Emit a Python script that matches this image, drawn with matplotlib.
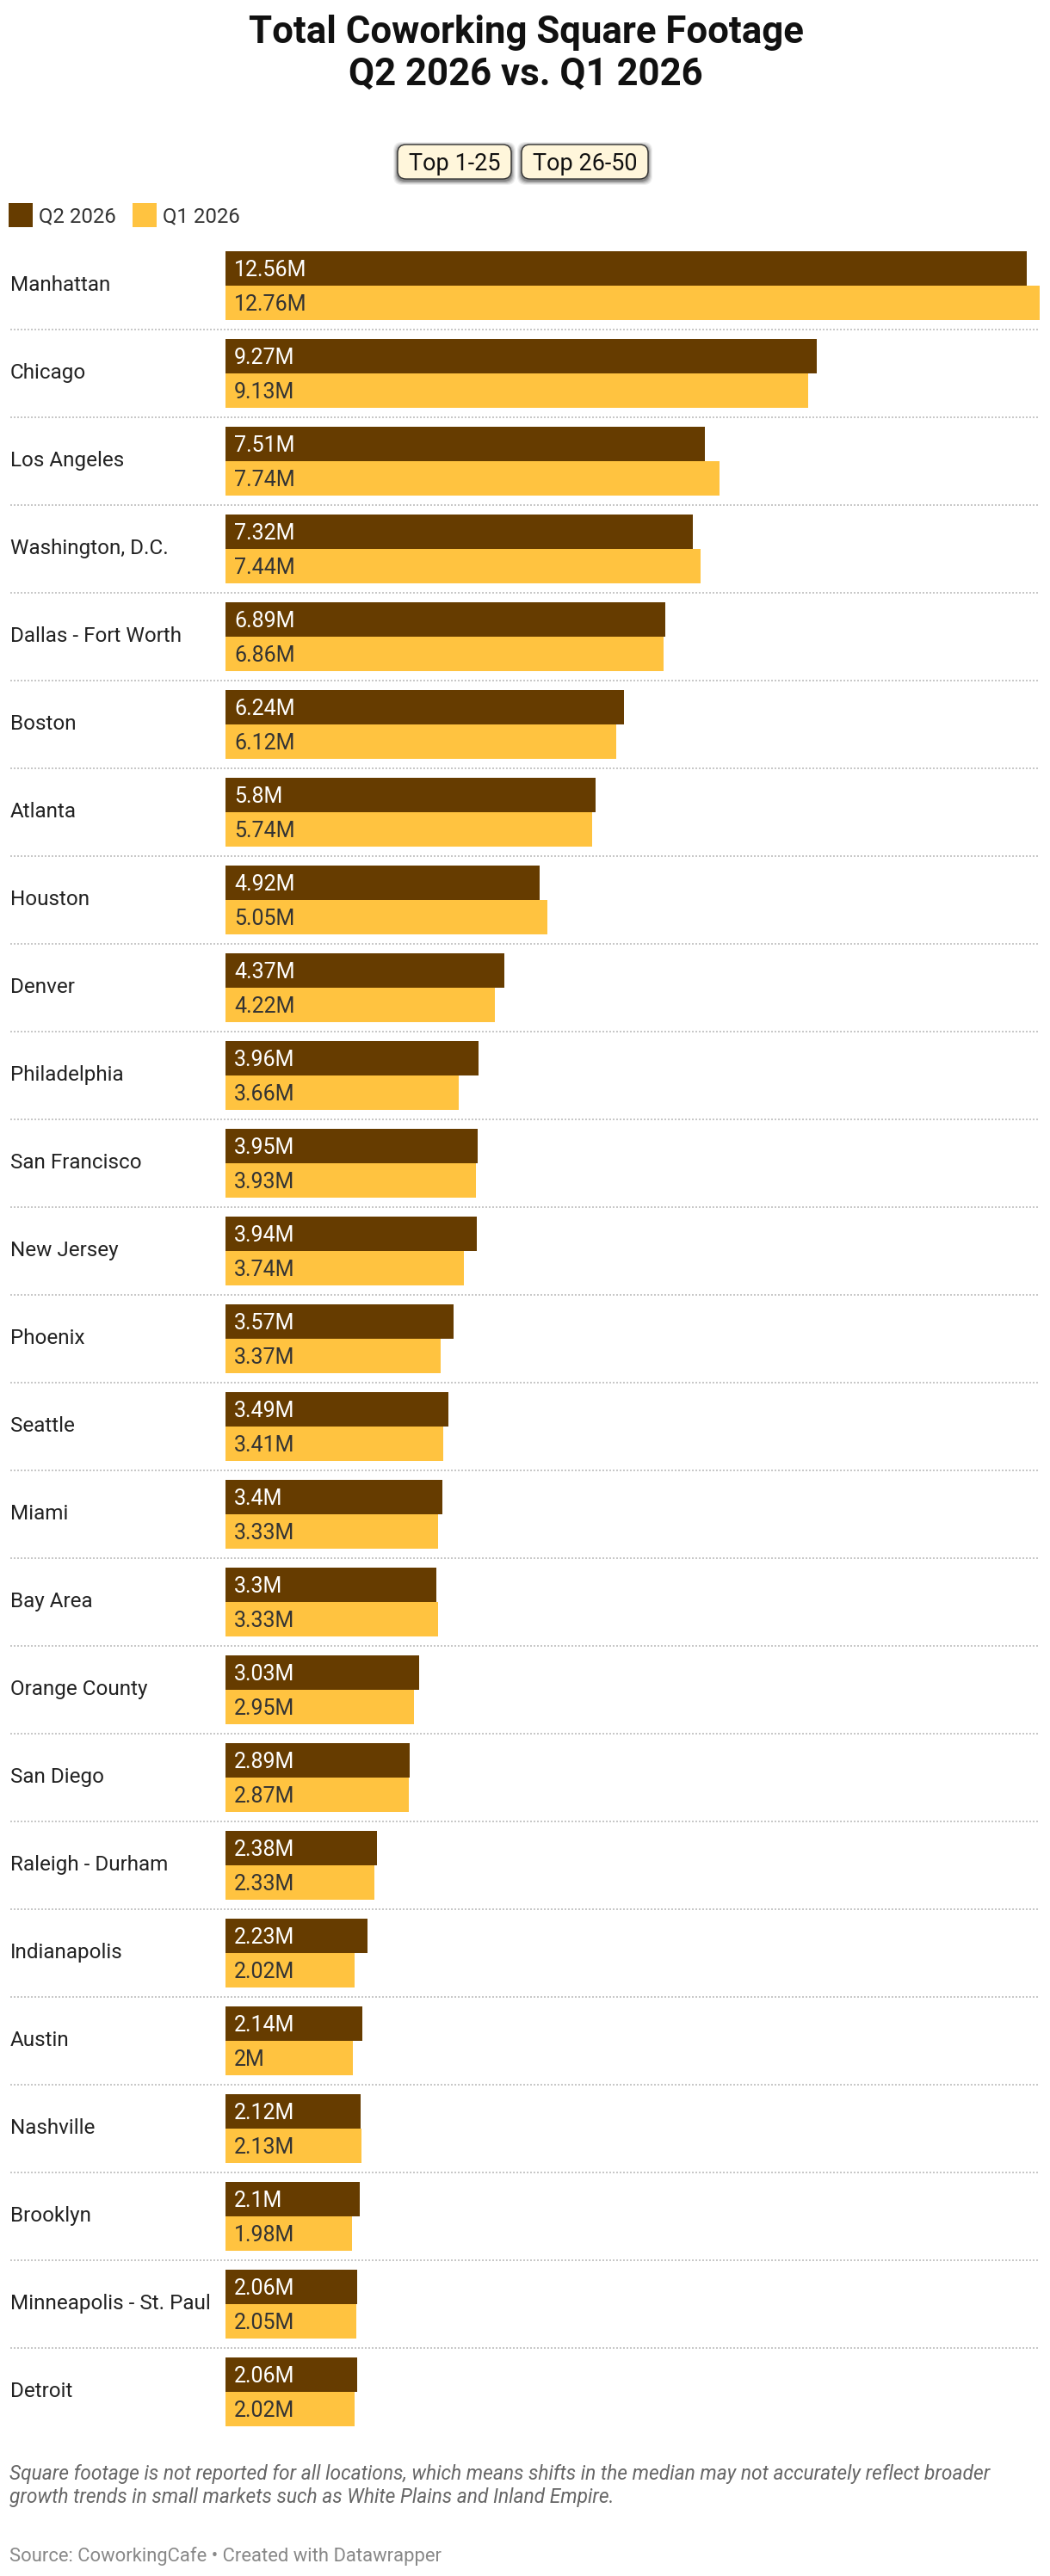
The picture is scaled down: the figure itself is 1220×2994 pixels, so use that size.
import matplotlib
matplotlib.use("Agg")
import matplotlib.pyplot as plt
from matplotlib.patches import FancyBboxPatch, Rectangle
import numpy as np

# ---------------- data ----------------
cities = ["Manhattan", "Chicago", "Los Angeles", "Washington, D.C.", "Dallas - Fort Worth",
          "Boston", "Atlanta", "Houston", "Denver", "Philadelphia", "San Francisco",
          "New Jersey", "Phoenix", "Seattle", "Miami", "Bay Area", "Orange County",
          "San Diego", "Raleigh - Durham", "Indianapolis", "Austin", "Nashville",
          "Brooklyn", "Minneapolis - St. Paul", "Detroit"]
q2_2026 = [12.56, 9.27, 7.51, 7.32, 6.89, 6.24, 5.8, 4.92, 4.37, 3.96, 3.95, 3.94, 3.57,
           3.49, 3.4, 3.3, 3.03, 2.89, 2.38, 2.23, 2.14, 2.12, 2.1, 2.06, 2.06]
q1_2026 = [12.76, 9.13, 7.74, 7.44, 6.86, 6.12, 5.74, 5.05, 4.22, 3.66, 3.93, 3.74, 3.37,
           3.41, 3.33, 3.33, 2.95, 2.87, 2.33, 2.02, 2.0, 2.13, 1.98, 2.05, 2.02]
series_names = ["Q2 2026", "Q1 2026"]
buttons = ["Top 1-25", "Top 26-50"]
title_lines = ["Total Coworking Square Footage", "Q2 2026 vs. Q1 2026"]
note_lines = ["Square footage is not reported for all locations, which means shifts in the median may not accurately reflect broader",
              "growth trends in small markets such as White Plains and Inland Empire."]
source = "Source: CoworkingCafe \u2022 Created with Datawrapper"

# ---------------- style ----------------
C_Q2 = "#663C00"
C_Q1 = "#FFC340"
W, H, DPI = 1220, 2994, 100
plt.rcParams['font.family'] = ['Roboto', 'DejaVu Sans']

def fx(x): return x / W
def fy(y): return 1 - y / H
def pt(px): return px * 72 / DPI

fig = plt.figure(figsize=(W / DPI, H / DPI), dpi=DPI)
fig.patch.set_facecolor("white")

# title
fig.text(fx(611), fy(50), title_lines[0], ha="center", va="baseline",
         fontsize=pt(43.8), fontweight="bold", color="#111111")
fig.text(fx(611), fy(99), title_lines[1], ha="center", va="baseline",
         fontsize=pt(43.8), fontweight="bold", color="#111111")

# buttons
btn_boxes = [(462, 594), (606, 753)]
for (x0, x1), lab in zip(btn_boxes, buttons):
    for k, a in enumerate([0.08, 0.10, 0.14, 0.20, 0.28]):
        grow = 5 - k
        sh = FancyBboxPatch((fx(x0 - grow), fy(210 + grow)), (x1 - x0 + 2 * grow) / W,
                            (40 + 2 * grow) / H,
                            boxstyle="round,pad=0,rounding_size=0.008",
                            transform=fig.transFigure, facecolor="#333333",
                            edgecolor="none", alpha=a, mutation_aspect=W / H)
        fig.add_artist(sh)
    box = FancyBboxPatch((fx(x0), fy(208)), (x1 - x0) / W, 40 / H,
                         boxstyle="round,pad=0,rounding_size=0.008",
                         transform=fig.transFigure, facecolor="#FFF6DB",
                         edgecolor="#333333", linewidth=1.0, mutation_aspect=W / H)
    fig.add_artist(box)
    fig.text(fx((x0 + x1) / 2), fy(198), lab, ha="center", va="baseline",
             fontsize=pt(27), color="#111111")

# legend
for (sx, tx), name, col in zip([(10, 45), (154, 189)], series_names, [C_Q2, C_Q1]):
    fig.add_artist(Rectangle((fx(sx), fy(264)), 28 / W, 28 / H,
                             transform=fig.transFigure, facecolor=col, edgecolor="none"))
    fig.text(fx(tx), fy(258), name, ha="left", va="baseline",
             fontsize=pt(24), color="#333333")

# bars
ax = fig.add_axes([fx(262), fy(2831), (1208 - 262) / W, (2831 - 281) / H])
n = len(cities)
y = np.arange(n)
bh = 40 / 102
ax.barh(y - bh / 2, q2_2026, height=bh, color=C_Q2, linewidth=0)
ax.barh(y + bh / 2, q1_2026, height=bh, color=C_Q1, linewidth=0)
ax.set_xlim(0, max(max(q1_2026), max(q2_2026)))
ax.set_ylim(n - 0.5, -0.5)
ax.axis("off")

# separators
xmin = (12 - 262) / (1208 - 262)
for i in range(1, n):
    ax.plot([xmin, 1], [i - 0.5, i - 0.5], transform=ax.get_yaxis_transform(),
            color="#C8C8C8", linewidth=1.44, linestyle=(0, (1, 1)),
            solid_capstyle="butt", dash_capstyle="butt", clip_on=False)

# labels
for i, (c, a, b) in enumerate(zip(cities, q2_2026, q1_2026)):
    ax.annotate(c, xy=(12, i), xycoords=("figure pixels", "data"),
                xytext=(0, -6), textcoords="offset pixels", ha="left", va="baseline",
                fontsize=pt(24.2), color="#222222", annotation_clip=False)
    ax.annotate(f"{a:g}M", xy=(0, i - bh / 2), xytext=(10, -9), textcoords="offset pixels",
                ha="left", va="baseline", fontsize=pt(25), color="white")
    ax.annotate(f"{b:g}M", xy=(0, i + bh / 2), xytext=(10, -9), textcoords="offset pixels",
                ha="left", va="baseline", fontsize=pt(25), color="#333333")

# footnote and source
fig.text(fx(11), fy(2882), note_lines[0], ha="left", va="baseline",
         fontsize=pt(22.8), style="italic", color="#666666")
fig.text(fx(11), fy(2909), note_lines[1], ha="left", va="baseline",
         fontsize=pt(22.8), style="italic", color="#666666")
fig.text(fx(11), fy(2977), source, ha="left", va="baseline",
         fontsize=pt(22), color="#888888")

fig.savefig("out.png", dpi=DPI, facecolor="white")
